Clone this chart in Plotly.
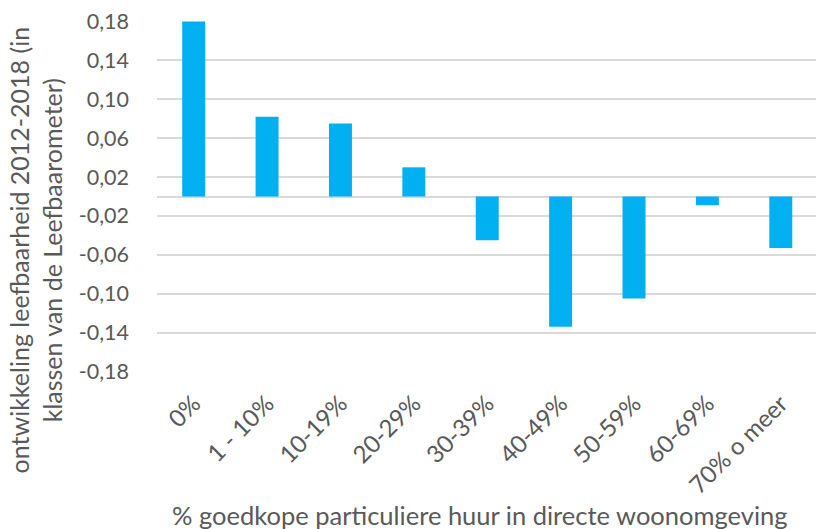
import plotly.graph_objects as go

# Categories and change in liveability score per category
categories = ["0%", "1 - 10%", "10-19%", "20-29%", "30-39%",
              "40-49%", "50-59%", "60-69%", "70% o meer"]
values = [0.180, 0.082, 0.075, 0.030, -0.045, -0.134, -0.105, -0.009, -0.053]

# Y-axis ticks
y_tickvals = [0.18, 0.14, 0.10, 0.06, 0.02, -0.02, -0.06, -0.10, -0.14, -0.18]
y_ticktext = ["0,18", "0,14", "0,10", "0,06", "0,02",
              "-0,02", "-0,06", "-0,10", "-0,14", "-0,18"]

y_title = "ontwikkeling leefbaarheid 2012-2018 (in<br>klassen van de Leefbaarometer)"
x_title = "% goedkope particuliere huur in directe woonomgeving"

FONT = "Lato, Calibri, sans-serif"
GREY = "#595959"
GRID = "#d9d9d9"

fig = go.Figure(
    go.Bar(
        x=categories,
        y=values,
        marker=dict(color="#00b0f0", line=dict(width=0)),
        hoverinfo="x+y",
    )
)

fig.update_layout(
    width=816,
    height=529,
    margin=dict(l=157, r=0, t=21, b=157),
    paper_bgcolor="white",
    plot_bgcolor="white",
    bargap=0.687,
    showlegend=False,
    font=dict(family=FONT, color=GREY, size=21),
    xaxis=dict(
        type="category",
        range=[-0.5, 8.48],
        tickangle=-45,
        showgrid=False,
        showline=False,
        ticks="",
        ticklabelstandoff=12,
        tickfont=dict(family=FONT, size=24, color=GREY),
    ),
    yaxis=dict(
        range=[-0.1805, 0.1805],
        tickvals=y_tickvals,
        ticktext=y_ticktext,
        showgrid=True,
        gridcolor=GRID,
        gridwidth=1.5,
        zeroline=True,
        zerolinecolor=GRID,
        zerolinewidth=1.5,
        showline=False,
        ticks="",
        ticklabelstandoff=27,
        tickfont=dict(family=FONT, size=21.5, color=GREY),
    ),
    annotations=[
        dict(
            text=y_title,
            xref="paper", yref="paper",
            x=-0.183, y=0.3476,
            xanchor="center", yanchor="middle",
            textangle=-90,
            showarrow=False,
            align="center",
            font=dict(family=FONT, size=25, color=GREY),
        ),
        dict(
            text=x_title,
            xref="paper", yref="paper",
            x=0.49, y=-0.407,
            xanchor="center", yanchor="middle",
            showarrow=False,
            font=dict(family=FONT, size=25.5, color=GREY),
        ),
    ],
)

fig.write_html("out.html")
